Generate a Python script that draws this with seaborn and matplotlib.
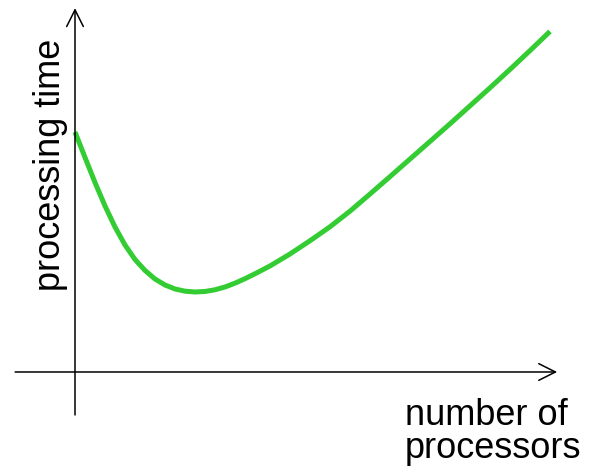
import numpy as np
import pandas as pd
import matplotlib
matplotlib.use("Agg")
import matplotlib.pyplot as plt
import seaborn as sns

# number of processors (arbitrary units) vs processing time (arbitrary units)
processors = [0.0, 2.11, 4.21, 6.32, 8.42, 10.53, 12.63, 14.74, 16.84, 18.95,
              21.05, 23.16, 25.26, 27.37, 29.47, 31.58, 33.68, 35.79, 37.89,
              41.05, 45.26, 49.47, 53.68, 57.89, 62.11, 66.32, 70.53, 74.74,
              78.95, 83.16, 87.37, 91.58, 95.79, 100.0]
proc_time = [70.38, 62.90, 55.57, 48.68, 42.52, 37.24, 32.99, 29.77, 27.27, 25.51,
             24.34, 23.70, 23.46, 23.61, 24.11, 24.93, 26.04, 27.36, 28.80,
             31.09, 34.60, 38.48, 42.58, 47.16, 52.20, 57.30, 62.46, 67.62,
             72.79, 78.06, 83.34, 88.74, 94.25, 99.88]

x_label = "number of\nprocessors"
y_label = "processing time"

sns.set_style("white")
plt.rcParams['font.family'] = ['Liberation Sans', 'DejaVu Sans']

df = pd.DataFrame({"processors": processors, "time": proc_time})

fig = plt.figure(figsize=(5.92, 4.72), dpi=100)
ax = fig.add_axes([0, 0, 1, 1])

sns.lineplot(data=df, x="processors", y="time", ax=ax, color="#33cc33",
             linewidth=3.6, solid_capstyle="butt", solid_joinstyle="round")

ax.set_xlim(-15.79, 108.84)
ax.set_ylim(-29.33, 109.09)
ax.set_axis_off()

# axes drawn as plain lines with open arrow heads
arrow = dict(arrowstyle="->", color="black", lw=1.1, mutation_scale=30,
             shrinkA=0, shrinkB=0)
ax.annotate("", xy=(101.5, 0), xytext=(-12.6, 0), arrowprops=arrow)
ax.annotate("", xy=(0, 106.7), xytext=(0, -12.6), arrowprops=arrow)

fig.text(0.0845, 0.650, y_label, rotation=90, ha="center", va="center",
         fontsize=26, color="black")
fig.text(0.684, 0.085, x_label, ha="left", va="center", fontsize=26,
         linespacing=0.95, color="black")

fig.savefig("out.png", dpi=100)
